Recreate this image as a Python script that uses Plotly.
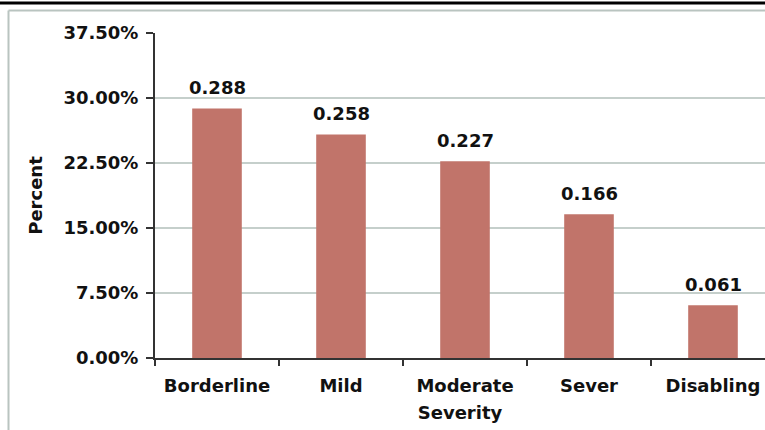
import plotly.graph_objects as go

categories = ["Borderline", "Mild", "Moderate", "Sever", "Disabling"]
values = [0.288, 0.258, 0.227, 0.166, 0.061]
value_labels = ["0.288", "0.258", "0.227", "0.166", "0.061"]
y_ticks = [0, 0.075, 0.15, 0.225, 0.30, 0.375]
y_tick_labels = ["0.00%", "7.50%", "15.00%", "22.50%", "30.00%", "37.50%"]

FONT = "DejaVu Sans"
BAR = "#c1746a"
GRID = "#c5cfcb"
AXIS = "#333333"
TXT = "#111111"
FS = 18

L, T, B = 155, 33, 72
W, H = 765, 430
PW = W - L
PH = H - T - B

def px_x(x):
    return (x - L) / PW

def px_y(y):
    return (H - B - y) / PH

xs = list(range(len(categories)))

fig = go.Figure(go.Bar(
    x=xs,
    y=values,
    marker=dict(color=BAR, line=dict(width=0)),
    width=0.4,
))

annotations = [
    dict(x=x, y=v, xref="x", yref="y", text=t, showarrow=False,
         yanchor="bottom", xanchor="center", yshift=8,
         font=dict(family=FONT, size=FS, color=TXT, weight="bold"))
    for x, v, t in zip(xs, values, value_labels)
]

fig.update_layout(
    width=W, height=H,
    margin=dict(l=L, r=0, t=T, b=B, pad=0),
    paper_bgcolor="white", plot_bgcolor="white",
    showlegend=False,
    font=dict(family=FONT, size=FS, color=TXT, weight="bold"),
    annotations=annotations,
    shapes=[
        dict(type="line", xref="paper", yref="paper", x0=px_x(0), x1=px_x(W),
             y0=px_y(3), y1=px_y(3), line=dict(color="black", width=3)),
        dict(type="line", xref="paper", yref="paper", x0=px_x(8.5), x1=px_x(8.5),
             y0=px_y(10.5), y1=px_y(H + 5), line=dict(color="#b9c4c0", width=2)),
        dict(type="line", xref="paper", yref="paper", x0=px_x(8.5), x1=px_x(W),
             y0=px_y(10.5), y1=px_y(10.5), line=dict(color="#b9c4c0", width=2)),
    ],
)

fig.update_xaxes(
    tickmode="array", tickvals=xs, ticktext=categories,
    range=[-0.5, -0.5 + PW / 124],
    showline=True, linecolor=AXIS, linewidth=2,
    ticks="", showgrid=False, zeroline=False,
    ticklabelstandoff=10,
    tickfont=dict(family=FONT, size=FS, color=TXT, weight="bold"),
    title=dict(text="Severity", font=dict(family=FONT, size=FS, color=TXT, weight="bold"), standoff=12),
    minor=dict(tickvals=[-0.5, 0.5, 1.5, 2.5, 3.5, 4.5], ticks="outside",
               ticklen=6, tickcolor=AXIS, tickwidth=2, showgrid=False),
)

fig.update_yaxes(
    range=[0, 0.375],
    tickmode="array", tickvals=y_ticks, ticktext=y_tick_labels,
    showline=True, linecolor=AXIS, linewidth=2,
    ticks="outside", ticklen=7, tickcolor=AXIS, tickwidth=2,
    ticklabelstandoff=4,
    showgrid=True, gridcolor=GRID, gridwidth=2,
    zeroline=False,
    tickfont=dict(family=FONT, size=FS, color=TXT, weight="bold"),
    title=dict(text="Percent", font=dict(family=FONT, size=FS, color=TXT, weight="bold"), standoff=16),
)

fig.write_html("out.html", config={"displayModeBar": False},
               post_script="document.body.style.margin='0';document.body.style.overflow='hidden';")
